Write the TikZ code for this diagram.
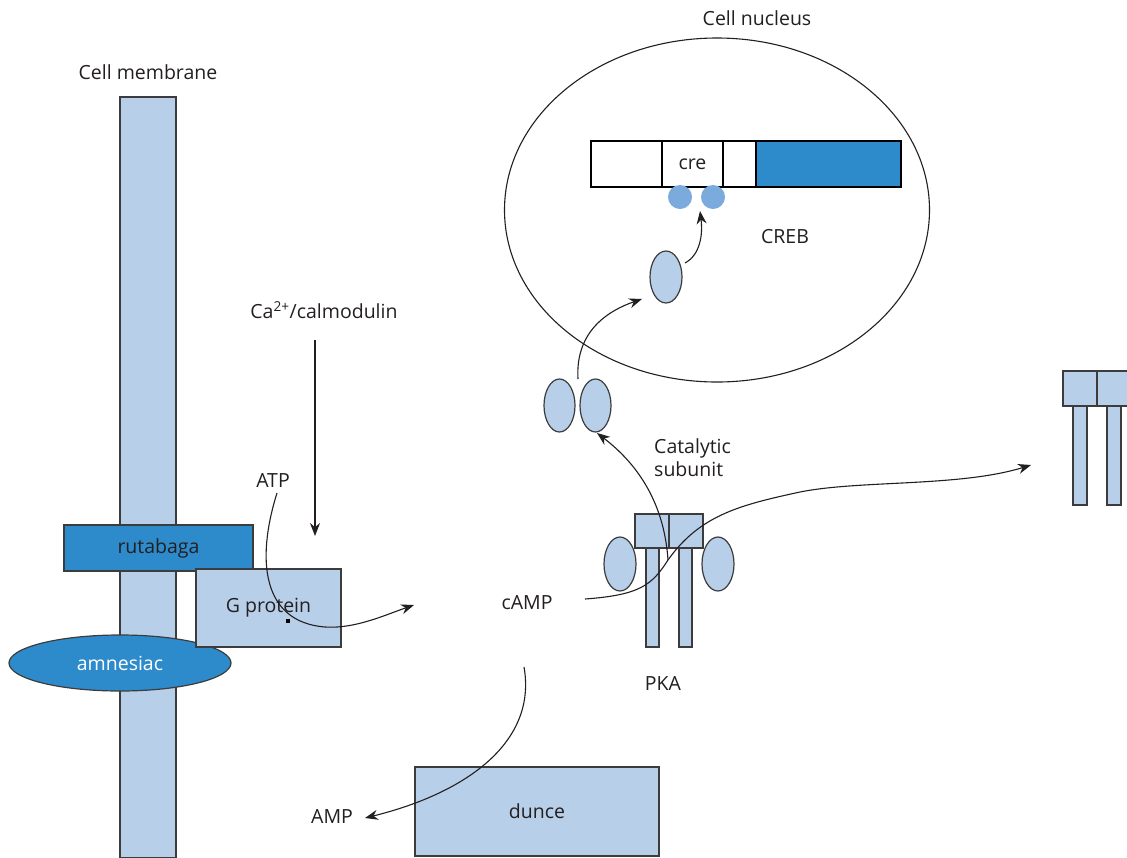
\documentclass[tikz,border=0pt]{standalone}
\usepackage{fontspec}
\setmainfont{Open Sans}
\usetikzlibrary{arrows.meta,shapes.geometric}
\definecolor{lb}{HTML}{B8CFE9}
\definecolor{mb}{HTML}{2E8BCB}
\definecolor{cb}{HTML}{7AABDC}
\definecolor{bd}{HTML}{3C3C3C}
\definecolor{tx}{HTML}{231F20}
\begin{document}
\begin{tikzpicture}[x=1pt,y=-1pt,
  every node/.style={font=\fontsize{19.5}{23}\selectfont, text=tx},
  box/.style={draw=bd, line width=1.2pt, fill=lb, inner sep=0pt, outer sep=0pt},
  dbox/.style={draw=bd, line width=1.2pt, fill=mb, inner sep=0pt, outer sep=0pt},
  wbox/.style={draw=black, line width=1.1pt, fill=white, inner sep=0pt, outer sep=0pt},
  oval/.style={ellipse, draw=bd, line width=1.2pt, fill=lb, inner sep=0pt, outer sep=0pt},
  dot/.style={circle, fill=cb, inner sep=0pt, outer sep=0pt, minimum size=24pt},
  lbl/.style={inner sep=0pt},
  conn/.style={draw=tx, line width=1.1pt, -{Stealth[length=13pt,width=10pt]}}
]
\useasboundingbox (0,0) rectangle (1127,857);
\fill[white] (0,0) rectangle (1127,857);

% nucleus
\draw[line width=1.1pt, draw=tx] (717,210) ellipse [x radius=212.5, y radius=172];
\node[lbl] (nuclbl) at (757,18) {Cell nucleus};

% gene bar
\node[wbox, minimum width=71pt, minimum height=46pt] (g1) at (626.5,164) {};
\node[wbox, minimum width=61pt, minimum height=46pt] (cre) at (692.5,164) {cre};
\node[wbox, minimum width=33pt, minimum height=46pt] (g3) at (739.5,164) {};
\node[draw=black, line width=1.1pt, fill=mb, inner sep=0pt, minimum width=145pt, minimum height=46pt] (g4) at (828.5,164) {};
\node[dot] (c1) at (680,197) {};
\node[dot] (c2) at (713,197) {};
\node[lbl] (creb) at (785,237) {CREB};

\node[oval, minimum width=32pt, minimum height=52pt] (nucE) at (666,277) {};

% pair
\node[oval, minimum width=31pt, minimum height=53pt] (pairL) at (559.5,405.5) {};
\node[oval, minimum width=31pt, minimum height=53pt] (pairR) at (595.5,405.5) {};

% membrane
\node[lbl] (memlbl) at (148,72) {Cell membrane};
\node[box, minimum width=56pt, minimum height=761pt] (mem) at (148,477.5) {};
\node[dbox, minimum width=189pt, minimum height=46pt] (ruta) at (158.5,548) {rutabaga};
\node[ellipse, draw=bd, line width=1.2pt, fill=mb, inner sep=0pt, minimum width=222pt, minimum height=56pt, text=white] (amn) at (120,663) {amnesiac};
\node[box, minimum width=145pt, minimum height=78pt] (gp) at (268.5,608) {G protein};
\node[fill=black, inner sep=0pt, minimum size=4pt] (sq) at (288,621) {};

% labels
\node[lbl] (ca) at (324,310) {Ca\textsuperscript{2+}/calmodulin};
\node[lbl] (atp) at (273,481) {ATP};
\node[lbl] (camp) at (527,603) {cAMP};
\node[lbl] (amp) at (332,816) {AMP};

% PKA
\node[oval, minimum width=32pt, minimum height=54pt] (pkaEL) at (620,564) {};
\node[oval, minimum width=32pt, minimum height=54pt] (pkaER) at (718,564) {};
\node[box, minimum width=13pt, minimum height=99pt] (legL) at (652.5,597.5) {};
\node[box, minimum width=13pt, minimum height=99pt] (legR) at (685.5,597.5) {};
\node[box, minimum width=34pt, minimum height=34pt] (topL) at (652,531) {};
\node[box, minimum width=34pt, minimum height=34pt] (topR) at (686,531) {};
\node[lbl] (pka) at (663,684) {PKA};
\node[lbl, anchor=west, align=left] (cat) at (654,458) {Catalytic\\subunit};

% right structure
\node[box, minimum width=14pt, minimum height=99pt] (rlegL) at (1080,455.5) {};
\node[box, minimum width=14pt, minimum height=99pt] (rlegR) at (1114,455.5) {};
\node[box, minimum width=34pt, minimum height=35pt] (rtopL) at (1080,388.5) {};
\node[box, minimum width=34pt, minimum height=35pt] (rtopR) at (1114,388.5) {};

% dunce
\node[box, minimum width=244pt, minimum height=89pt] (dunce) at (537,811.5) {dunce};

% coordinates
\coordinate (caS) at (315,340);
\coordinate (caE) at (315,536);
\coordinate (atpS) at (277,493);
\coordinate (atpE) at (414,605);
\coordinate (campS) at (585,599);
\coordinate (campE) at (1031,465);
\coordinate (catS) at (668,560);
\coordinate (catE) at (597,433);
\coordinate (pairS) at (578,379);
\coordinate (pairE) at (642,299);
\coordinate (nucS) at (685,263);
\coordinate (nucT) at (700,211);
\coordinate (ampS) at (524,667);
\coordinate (ampE) at (365,818);

% connectors
\draw[conn] (caS) -- (caE);
\draw[conn] (atpS) .. controls (256,560) and (262,622) .. (325,627) .. controls (355,629) and (385,615) .. (atpE);
\draw[conn] (campS) .. controls (640,595) and (652,585) .. (668,560) .. controls (700,515) and (740,505) .. (800,492) .. controls (860,480) and (960,487) .. (campE);
\draw[conn] (catS) .. controls (664,500) and (635,462) .. (catE);
\draw[conn] (pairS) .. controls (575,330) and (610,310) .. (pairE);
\draw[conn] (nucS) .. controls (700,255) and (703,235) .. (nucT);
\draw[conn] (ampS) .. controls (537,740) and (470,792) .. (ampE);
\end{tikzpicture}
\end{document}
